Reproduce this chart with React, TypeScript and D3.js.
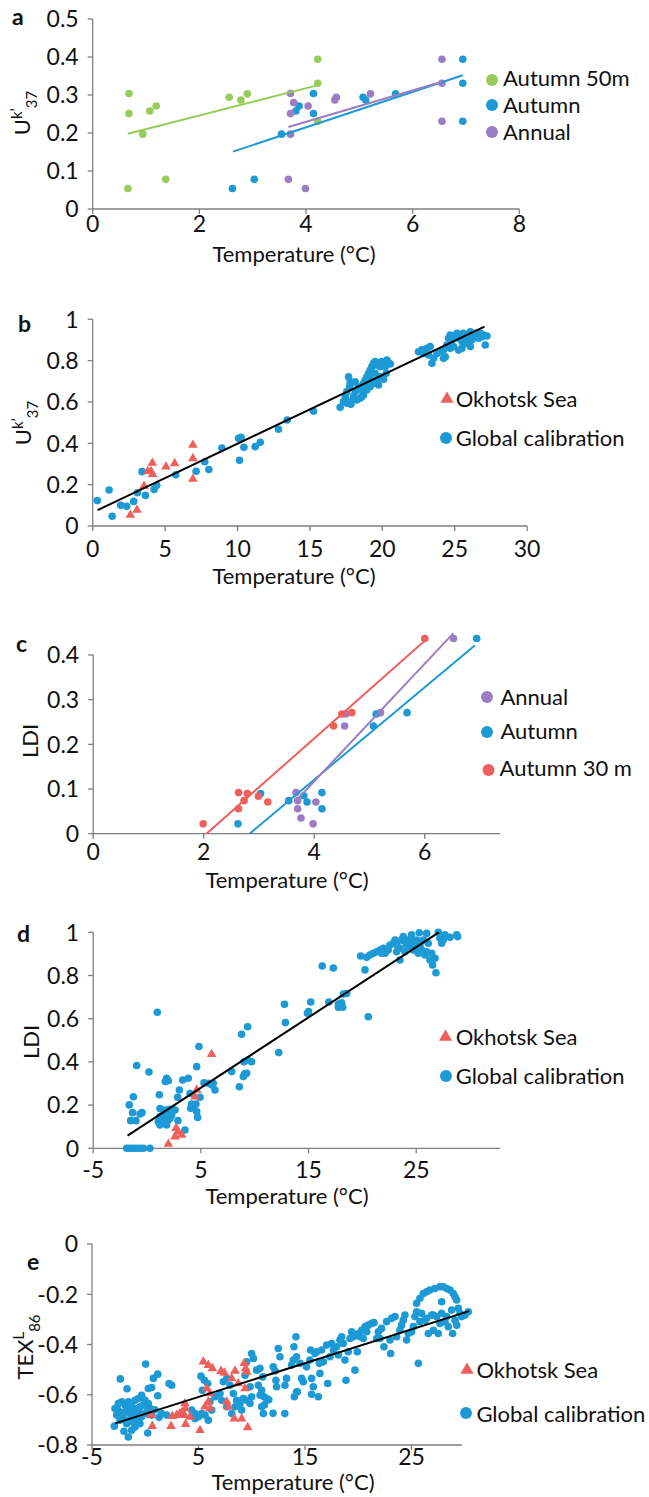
import React from 'react';
import * as d3 from 'd3';

type Pt = [number, number];

const FONT = 'Lato, "Open Sans", sans-serif';
const BLUE = '#1D9AD6';
const GREEN = '#97CB5A';
const PURPLE = '#9A7DC2';
const RED = '#EF5F5B';
const AXIS = '#7F7F7F';
const TEXT = '#111';

// ---------- Panel a ----------
const aXTicks = [0, 2, 4, 6, 8];
const aYTicks = [0, 0.1, 0.2, 0.3, 0.4, 0.5];
const aAutumn50: Pt[] = [[0.68,0.304],[0.68,0.251],[0.66,0.054],[0.94,0.197],[1.07,0.258],[1.19,0.271],[1.37,0.078],[2.56,0.294],[2.78,0.287],[2.9,0.303],[4.22,0.394],[4.22,0.331],[4.22,0.231]];
const aAutumn: Pt[] = [[2.62,0.054],[3.03,0.078],[3.54,0.197],[3.81,0.258],[3.87,0.271],[4.14,0.304],[4.14,0.251],[5.07,0.294],[5.12,0.287],[5.68,0.303],[6.94,0.394],[6.94,0.331],[6.94,0.231]];
const aAnnual: Pt[] = [[3.71,0.304],[3.77,0.28],[3.71,0.251],[3.71,0.197],[3.67,0.078],[3.99,0.054],[4.04,0.271],[4.54,0.287],[4.57,0.294],[5.21,0.303],[6.55,0.394],[6.55,0.331],[6.55,0.231]];
const aLineAutumn50: Pt[] = [[0.66,0.198],[4.17,0.324]];
const aLineAutumn: Pt[] = [[2.63,0.151],[6.94,0.352]];
const aLineAnnual: Pt[] = [[3.67,0.216],[6.55,0.335]];

// ---------- Panel b ----------
const bXTicks = [0, 5, 10, 15, 20, 25, 30];
const bYTicks = [0, 0.2, 0.4, 0.6, 0.8, 1];
const bOkhotsk: Pt[] = [[2.6,0.053],[3.06,0.077],[3.54,0.193],[3.8,0.265],[4.03,0.265],[4.12,0.305],[4.14,0.25],[5.06,0.287],[5.66,0.303],[6.92,0.392],[6.92,0.327],[6.92,0.227]];
const bGlobal: Pt[] = [
  [0.32,0.123],[1.13,0.174],[1.34,0.047],[1.94,0.1],[2.35,0.095],[2.83,0.119],[3.09,0.161],[3.41,0.263],[3.64,0.148],[4.24,0.177],[4.42,0.197],[5.74,0.248],[7.14,0.265],[7.74,0.311],[8.02,0.273],[8.92,0.377],[10.07,0.424],[10.25,0.429],[10.14,0.318],[10.44,0.381],[11.22,0.384],[11.57,0.405],[12.83,0.468],[13.43,0.513],[15.25,0.555],
  [17.09,0.574],[17.32,0.601],[17.44,0.622],[17.55,0.65],[17.74,0.674],[17.78,0.698],[17.67,0.722],[17.9,0.693],[18.13,0.698],[18.36,0.674],[18.59,0.658],[18.7,0.69],[18.82,0.706],[18.93,0.722],[19.05,0.739],[19.16,0.755],[19.28,0.771],[19.39,0.787],[19.51,0.795],[19.63,0.779],[19.74,0.79],[19.86,0.771],[19.97,0.795],[20.09,0.787],[20.2,0.771],[20.32,0.803],[20.43,0.79],[20.55,0.784],[20.27,0.739],[19.86,0.722],[19.63,0.706],[19.39,0.69],[19.16,0.674],[18.93,0.658],[18.7,0.634],[18.47,0.618],[18.24,0.61],[18.01,0.626],[17.78,0.602],[17.55,0.594],[17.83,0.589],[19.74,0.682],[20.09,0.71],[19.51,0.739],[19.16,0.714],[18.98,0.682],[18.59,0.626],[18.13,0.65],
  [22.5,0.843],[22.73,0.852],[22.85,0.835],[23.08,0.86],[23.31,0.868],[23.2,0.827],[23.43,0.787],[23.54,0.811],[23.77,0.835],[24.0,0.843],[24.23,0.852],[24.35,0.819],[24.46,0.876],[24.58,0.908],[24.69,0.924],[24.81,0.9],[24.92,0.868],[25.04,0.916],[25.15,0.932],[25.27,0.908],[25.38,0.924],[25.5,0.892],[25.61,0.932],[25.73,0.908],[25.84,0.884],[25.96,0.924],[26.08,0.94],[26.19,0.9],[26.31,0.916],[26.42,0.932],[26.54,0.924],[26.65,0.908],[26.77,0.932],[26.88,0.916],[27.0,0.924],[27.11,0.876],[27.23,0.919],[25.27,0.851],[24.23,0.811],[24.69,0.86],[25.5,0.86],[26.08,0.868]
];
const bLine: Pt[] = [[0.34,0.077],[27.06,0.965]];

// ---------- Panel c ----------
const cXTicks = [0, 2, 4, 6];
const cYTicks = [0, 0.1, 0.2, 0.3, 0.4];
const cAnnual: Pt[] = [[3.67,0.092],[3.7,0.074],[3.7,0.056],[3.76,0.035],[3.98,0.022],[4.03,0.071],[4.55,0.241],[4.57,0.268],[5.2,0.271],[6.52,0.437]];
const cAutumn: Pt[] = [[2.62,0.022],[3.03,0.09],[3.54,0.074],[3.81,0.085],[3.87,0.071],[4.14,0.092],[4.14,0.056],[5.07,0.241],[5.12,0.268],[5.68,0.271],[6.94,0.437]];
const cAutumn30: Pt[] = [[1.99,0.022],[2.63,0.092],[2.63,0.056],[2.73,0.074],[2.79,0.09],[2.99,0.084],[3.16,0.071],[4.35,0.241],[4.5,0.268],[4.68,0.271],[6.0,0.437]];
const cLineAnnual: Pt[] = [[3.71,0.079],[6.52,0.449]];
const cLineAutumn: Pt[] = [[2.83,0],[6.91,0.422]];
const cLineAutumn30: Pt[] = [[2.05,0],[6.0,0.432]];

// ---------- Panel d ----------
const dXTicks = [-5, 5, 15, 25];
const dYTicks = [0, 0.2, 0.4, 0.6, 0.8, 1];
const dOkhotsk: Pt[] = [[1.98,0.02],[2.6,0.054],[2.69,0.093],[2.9,0.077],[3.21,0.062],[4.45,0.239],[4.61,0.27],[6.0,0.435]];
const dGlobal: Pt[] = [
  [-1.89,0],[-1.58,0],[-1.27,0],[-0.96,0],[-0.65,0],[-0.35,0],[0.27,0],
  [0.95,0.63],[-0.96,0.383],[0.18,0.353],[-1.65,0.201],[-1.27,0.239],[-1.34,0.165],[-1.52,0.128],[-1.03,0.128],[-0.65,0.159],[-0.47,0.165],[1.14,0.248],[1.82,0.324],[1.98,0.313],[1.7,0.309],
  [1.2,0.184],[1.51,0.177],[1.82,0.177],[2.13,0.18],[2.44,0.177],[1.2,0.147],[1.51,0.154],[1.82,0.147],[2.13,0.139],[1.05,0.123],[1.36,0.116],[1.67,0.123],[1.98,0.131],[2.29,0.154],[2.6,0.177],[1.2,0.108],[1.82,0.108],[2.87,0.128],[3.52,0.085],[3.0,0.27],[2.84,0.236],[3.31,0.316],[3.83,0.324],
  [4.61,0.378],[4.82,0.471],[3.99,0.254],[4.05,0.185],[4.3,0.193],[4.54,0.205],[4.14,0.205],[4.61,0.17],[4.7,0.143],[4.92,0.236],[5.29,0.303],[5.69,0.301],[6.0,0.293],[6.15,0.301],[6.31,0.27],
  [7.86,0.355],[8.57,0.285],[8.94,0.332],[9.07,0.345],[8.78,0.528],[9.34,0.563],[9.0,0.401],[9.37,0.409],[9.71,0.401],[9.25,0.347],
  [12.23,0.443],[12.77,0.667],[12.85,0.582],[14.9,0.625],[15.0,0.633],[15.2,0.677],[16.27,0.844],[16.88,0.677],[17.3,0.835],[17.77,0.668],[17.77,0.653],[18.23,0.714],
  [18.07,0.674],[18.17,0.653],[18.54,0.717],[20.55,0.609],[20.24,0.826],[19.84,0.89],[20.4,0.884],[20.7,0.895],[21.0,0.903],[21.32,0.91],[21.63,0.918],[21.94,0.926],[21.79,0.903],[22.1,0.903],[22.4,0.918],[22.56,0.941],[22.87,0.949],[23.03,0.964],[23.18,0.941],[23.49,0.926],[23.49,0.872],[23.64,0.964],[23.8,0.98],[23.95,0.957],[24.11,0.941],[24.26,0.964],[24.42,0.934],[24.57,0.957],[24.73,0.918],[24.88,0.949],[25.04,0.926],[25.19,0.903],[25.28,0.998],[25.35,0.941],[25.5,0.918],[25.66,0.964],[25.81,0.895],[25.97,0.995],[25.97,0.91],[26.12,0.949],[26.28,0.872],[26.43,0.903],[26.52,0.849],[26.74,0.88],[26.83,0.813],[27.05,1.0],[27.2,0.972],[27.36,0.949],[27.51,0.964],[27.67,0.988],[28.13,0.977],[28.75,0.988],[28.84,0.98],[23.18,0.91],[23.95,0.91],[25.04,0.964],[24.57,0.988]
];
const dLine: Pt[] = [[-1.81,0.059],[27.1,1.0]];

// ---------- Panel e ----------
const eXTicks = [-5, 5, 15, 25];
const eYTicks = [0, -0.2, -0.4, -0.6, -0.8];
const eOkhotsk: Pt[] = [[5.45,-0.469],[5.92,-0.482],[6.3,-0.495],[7.11,-0.506],[7.43,-0.513],[8.43,-0.505],[9.3,-0.475],[9.43,-0.495],[9.52,-0.509],[8.11,-0.535],[8.74,-0.555],[5.77,-0.575],[6.08,-0.595],[5.92,-0.628],[5.61,-0.648],[6.08,-0.655],[7.65,-0.628],[7.8,-0.648],[9.37,-0.575],[9.05,-0.695],[8.36,-0.695],[9.62,-0.73],[5.14,-0.741],[0.54,-0.681],[0.66,-0.725],[2.42,-0.725],[2.54,-0.685],[2.95,-0.681],[3.26,-0.675],[3.73,-0.635],[3.79,-0.655],[3.67,-0.681],[3.79,-0.717],[4.2,-0.688],[3.48,-0.668]];
const eGlobal: Pt[] = [
  [0.04,-0.478],[-2.34,-0.537],[-1.71,-0.576],[1.17,-0.518],[0.76,-0.535],[0.6,-0.571],[0.29,-0.575],[2.23,-0.555],[2.48,-0.562],[1.17,-0.604],
  [-2.84,-0.655],[-2.53,-0.635],[-2.21,-0.628],[-1.9,-0.641],[-1.59,-0.628],[-1.28,-0.641],[-0.96,-0.622],[-0.65,-0.615],[-0.34,-0.602],[-0.02,-0.622],[0.29,-0.635],
  [-2.68,-0.681],[-2.37,-0.668],[-2.06,-0.675],[-1.74,-0.661],[-1.43,-0.675],[-1.12,-0.661],[-0.81,-0.655],[-0.49,-0.648],[-0.18,-0.641],[0.13,-0.648],[0.45,-0.655],
  [-2.9,-0.725],[-2.37,-0.701],[-1.74,-0.715],[-1.28,-0.695],[-0.81,-0.701],[-0.34,-0.688],[-0.02,-0.675],[0.6,-0.681],[-1.59,-0.768],[-1.28,-0.741],[-0.96,-0.728],[0.23,-0.752],[1.54,-0.675],[2.01,-0.681],
  [-2.2,-0.69],[-1.9,-0.7],[-1.5,-0.655],[-1.0,-0.68],[-0.6,-0.67],[-2.6,-0.66],[-2.0,-0.745],[-1.1,-0.71],[-0.5,-0.715],[0.9,-0.66],[1.3,-0.69],
  [4.36,-0.661],[4.67,-0.675],[4.98,-0.688],[5.3,-0.675],[5.61,-0.681],[5.23,-0.526],[5.55,-0.542],[5.86,-0.555],[5.36,-0.582],[6.08,-0.628],[6.55,-0.608],[7.02,-0.595],[7.33,-0.548],[7.65,-0.535],[7.96,-0.562],[8.27,-0.595],[8.58,-0.622],[8.9,-0.635],[9.21,-0.615],[9.52,-0.622],[9.84,-0.635],[8.43,-0.648],[9.05,-0.661],
  [9.52,-0.469],[9.99,-0.436],[10.15,-0.456],[10.46,-0.502],[10.62,-0.562],[10.78,-0.602],[10.93,-0.648],[11.09,-0.675],[9.37,-0.522],[9.84,-0.568],[9.99,-0.608],[7.18,-0.622],[7.65,-0.648],[8.12,-0.675],[6.24,-0.661],[5.92,-0.701],[4.67,-0.695],
  [10.77,-0.495],[11.02,-0.529],[10.93,-0.582],[11.15,-0.608],[11.4,-0.615],[11.2,-0.64],[12.0,-0.674],[13.1,-0.675],[11.6,-0.62],[14.0,-0.608],[14.2,-0.589],
  [12.02,-0.489],[12.18,-0.505],[12.49,-0.416],[12.65,-0.449],[12.27,-0.542],[12.33,-0.568],[13.12,-0.562],[13.27,-0.535],[13.74,-0.482],[13.9,-0.462],[13.96,-0.409],[14.15,-0.369],[14.21,-0.449],[14.53,-0.475],[14.68,-0.535],[14.84,-0.548],[15.15,-0.489],[15.46,-0.462],[15.53,-0.422],[15.62,-0.535],[15.78,-0.568],[15.93,-0.436],[16.09,-0.429],[16.34,-0.475],[16.56,-0.422],[16.4,-0.515],[16.25,-0.608],[15.62,-0.598],[14.28,-0.588],[16.72,-0.469],
  [17.03,-0.402],[17.13,-0.555],[17.34,-0.449],[17.5,-0.396],[17.66,-0.422],[17.97,-0.409],[18.13,-0.442],[18.28,-0.382],[18.44,-0.369],[18.59,-0.396],[18.75,-0.462],[18.85,-0.542],[19.06,-0.429],[19.22,-0.376],[19.38,-0.349],[19.53,-0.369],[19.69,-0.502],[19.78,-0.363],[19.91,-0.429],[20.0,-0.356],[20.16,-0.369],[20.32,-0.343],[20.47,-0.376],[20.63,-0.329],[20.79,-0.349],[20.94,-0.323],[21.26,-0.316],[21.47,-0.313],[21.73,-0.376],[22.04,-0.376],[22.41,-0.409],[22.66,-0.309],[22.98,-0.382],[23.04,-0.436],[23.13,-0.296],[23.45,-0.289],[23.6,-0.369],[23.91,-0.343],[24.07,-0.323],[24.38,-0.283],[24.54,-0.382],[24.7,-0.356],[25.01,-0.349],[25.32,-0.289],[25.48,-0.236],[25.64,-0.475],[25.79,-0.216],[25.95,-0.276],[26.11,-0.197],[26.26,-0.303],[26.42,-0.19],[26.58,-0.356],[26.73,-0.183],[26.89,-0.283],[27.05,-0.343],[27.2,-0.177],[27.36,-0.289],[27.51,-0.356],[27.67,-0.17],[27.83,-0.23],[27.83,-0.276],[27.98,-0.17],[28.14,-0.309],[28.3,-0.177],[28.45,-0.329],[28.61,-0.183],[28.77,-0.263],[28.86,-0.356],[28.92,-0.197],[29.08,-0.21],[29.24,-0.223],[29.39,-0.256],[29.55,-0.276],[29.71,-0.289],[30.02,-0.283],[30.33,-0.27],
  [25.48,-0.27],[25.79,-0.309],[26.42,-0.296],[27.05,-0.283],[27.67,-0.316],[28.3,-0.289],[29.08,-0.303],[29.24,-0.323],[25.17,-0.329],[24.23,-0.303],[22.19,-0.336],[21.88,-0.349]
];
const eLine: Pt[] = [[-2.82,-0.714],[30.4,-0.267]];

type Series = { data: Pt[]; color: string; shape: 'circle' | 'triangle' };
type Line = { data: Pt[]; color: string };
type LegendItem = { label: string; color: string; shape: 'circle' | 'triangle'; mx: number; my: number; tx: number; ty: number };
type PanelCfg = {
  letter: string; letterX: number; letterY: number;
  xDomain: Pt; xRange: Pt; yDomain: Pt; yRange: Pt;
  xTicks: number[]; yTicks: number[]; xTickY: number;
  xLabelX: number; xLabelY: number;
  yTitle: React.ReactNode; yTitleX: number; yTitleY: number;
  series: Series[]; lines: Line[]; legend: LegendItem[];
};

const triPath = d3.symbol().type(d3.symbolTriangle).size(40)() as string;
const triLegend = d3.symbol().type(d3.symbolTriangle).size(75)() as string;

function fmt(v: number) {
  return String(Math.round(v * 10) / 10);
}

function Panel({ c }: { c: PanelCfg }) {
  const x = d3.scaleLinear().domain(c.xDomain).range(c.xRange);
  const y = d3.scaleLinear().domain(c.yDomain).range(c.yRange);
  const x0 = c.xRange[0];
  const y0 = c.yRange[0];
  const line = d3.line<Pt>().x(d => x(d[0])).y(d => y(d[1]));
  return (
    <g fontFamily={FONT} fill={TEXT}>
      <text x={c.letterX} y={c.letterY} fontSize={23} fontWeight="bold">{c.letter}</text>
      <line x1={x0} x2={x0} y1={y0} y2={c.yRange[1]} stroke={AXIS} strokeWidth={1.3} />
      <line x1={x0} x2={c.xRange[1]} y1={y0} y2={y0} stroke={AXIS} strokeWidth={1.3} />
      {c.yTicks.map(t => (
        <g key={'y' + t}>
          <line x1={x0 - 5} x2={x0} y1={y(t)} y2={y(t)} stroke={AXIS} strokeWidth={1.3} />
          <text x={x0 - 14} y={y(t)} dy="0.36em" textAnchor="end" fontSize={23}>{fmt(t)}</text>
        </g>
      ))}
      {c.xTicks.map(t => (
        <g key={'x' + t}>
          <line x1={x(t)} x2={x(t)} y1={y0} y2={y0 + 5} stroke={AXIS} strokeWidth={1.3} />
          <text x={x(t)} y={c.xTickY} textAnchor="middle" fontSize={23}>{fmt(t)}</text>
        </g>
      ))}
      <text x={c.xLabelX} y={c.xLabelY} textAnchor="middle" fontSize={22}>Temperature (°C)</text>
      <text transform={`translate(${c.yTitleX},${c.yTitleY}) rotate(-90)`} textAnchor="middle" fontSize={22}>{c.yTitle}</text>
      {c.series.map((s, i) => (
        <g key={'s' + i} fill={s.color}>
          {s.data.map((d, j) =>
            s.shape === 'circle'
              ? <circle key={j} cx={x(d[0])} cy={y(d[1])} r={3.8} />
              : <path key={j} d={triPath} transform={`translate(${x(d[0])},${y(d[1])})`} />
          )}
        </g>
      ))}
      {c.lines.map((l, i) => (
        <path key={'l' + i} d={line(l.data) as string} stroke={l.color} strokeWidth={2} fill="none" />
      ))}
      {c.legend.map((it, i) => (
        <g key={'lg' + i}>
          {it.shape === 'circle'
            ? <circle cx={it.mx} cy={it.my} r={6} fill={it.color} />
            : <path d={triLegend} transform={`translate(${it.mx},${it.my})`} fill={it.color} />}
          <text x={it.tx} y={it.ty} fontSize={22}>{it.label}</text>
        </g>
      ))}
    </g>
  );
}

const U37 = (
  <>U<tspan dy={-8} fontSize={15}>k’</tspan><tspan dy={15} fontSize={15}>37</tspan></>
);
const TEX = (
  <>TEX<tspan dy={-9} fontSize={15}>L</tspan><tspan dy={16} fontSize={15}>86</tspan></>
);

const panels: PanelCfg[] = [
  {
    letter: 'a', letterX: 12, letterY: 25,
    xDomain: [0, 8], xRange: [92.7, 519.3], yDomain: [0, 0.5], yRange: [209, 19],
    xTicks: aXTicks, yTicks: aYTicks, xTickY: 232,
    xLabelX: 294, xLabelY: 262,
    yTitle: U37, yTitleX: 30, yTitleY: 113,
    series: [
      { data: aAutumn50, color: GREEN, shape: 'circle' },
      { data: aAutumn, color: BLUE, shape: 'circle' },
      { data: aAnnual, color: PURPLE, shape: 'circle' },
    ],
    lines: [
      { data: aLineAutumn50, color: GREEN },
      { data: aLineAutumn, color: BLUE },
      { data: aLineAnnual, color: PURPLE },
    ],
    legend: [
      { label: 'Autumn 50m', color: GREEN, shape: 'circle', mx: 492, my: 80, tx: 503, ty: 85.5 },
      { label: 'Autumn', color: BLUE, shape: 'circle', mx: 492, my: 105, tx: 503, ty: 112.5 },
      { label: 'Annual', color: PURPLE, shape: 'circle', mx: 492, my: 132, tx: 503, ty: 139.5 },
    ],
  },
  {
    letter: 'b', letterX: 18, letterY: 332,
    xDomain: [0, 30], xRange: [92.7, 527.1], yDomain: [0, 1], yRange: [526, 319.3],
    xTicks: bXTicks, yTicks: bYTicks, xTickY: 557,
    xLabelX: 294, xLabelY: 584,
    yTitle: U37, yTitleX: 31, yTitleY: 423,
    series: [
      { data: bGlobal, color: BLUE, shape: 'circle' },
      { data: bOkhotsk, color: RED, shape: 'triangle' },
    ],
    lines: [{ data: bLine, color: '#000' }],
    legend: [
      { label: 'Okhotsk Sea', color: RED, shape: 'triangle', mx: 447, my: 399, tx: 455.7, ty: 407 },
      { label: 'Global calibration', color: BLUE, shape: 'circle', mx: 446, my: 438, tx: 455.7, ty: 446 },
    ],
  },
  {
    letter: 'c', letterX: 16, letterY: 652,
    xDomain: [0, 7.36], xRange: [93.2, 499.9], yDomain: [0, 0.4], yRange: [833.7, 655],
    xTicks: cXTicks, yTicks: cYTicks, xTickY: 860,
    xLabelX: 287, xLabelY: 887.5,
    yTitle: 'LDI', yTitleX: 38, yTitleY: 741,
    series: [
      { data: cAnnual, color: PURPLE, shape: 'circle' },
      { data: cAutumn, color: BLUE, shape: 'circle' },
      { data: cAutumn30, color: RED, shape: 'circle' },
    ],
    lines: [
      { data: cLineAutumn, color: BLUE },
      { data: cLineAnnual, color: PURPLE },
      { data: cLineAutumn30, color: RED },
    ],
    legend: [
      { label: 'Annual', color: PURPLE, shape: 'circle', mx: 487, my: 697, tx: 500.4, ty: 705 },
      { label: 'Autumn', color: BLUE, shape: 'circle', mx: 487, my: 732, tx: 500.4, ty: 739 },
      { label: 'Autumn 30 m', color: RED, shape: 'circle', mx: 488.5, my: 770, tx: 499.6, ty: 776 },
    ],
  },
  {
    letter: 'd', letterX: 17, letterY: 942,
    xDomain: [-5, 32.78], xRange: [93.2, 500], yDomain: [0, 1], yRange: [1148.3, 932.3],
    xTicks: dXTicks, yTicks: dYTicks, xTickY: 1178,
    xLabelX: 287, xLabelY: 1204,
    yTitle: 'LDI', yTitleX: 39, yTitleY: 1042,
    series: [
      { data: dGlobal, color: BLUE, shape: 'circle' },
      { data: dOkhotsk, color: RED, shape: 'triangle' },
    ],
    lines: [{ data: dLine, color: '#000' }],
    legend: [
      { label: 'Okhotsk Sea', color: RED, shape: 'triangle', mx: 445.5, my: 1037, tx: 455.7, ty: 1045 },
      { label: 'Global calibration', color: BLUE, shape: 'circle', mx: 446, my: 1076, tx: 455.7, ty: 1084 },
    ],
  },
  {
    letter: 'e', letterX: 27, letterY: 1270,
    xDomain: [-5, 29.74], xRange: [92, 462], yDomain: [-0.8, 0], yRange: [1445, 1244],
    xTicks: eXTicks, yTicks: eYTicks, xTickY: 1465,
    xLabelX: 293, xLabelY: 1490,
    yTitle: TEX, yTitleX: 33, yTitleY: 1347,
    series: [
      { data: eGlobal, color: BLUE, shape: 'circle' },
      { data: eOkhotsk, color: RED, shape: 'triangle' },
    ],
    lines: [{ data: eLine, color: '#000' }],
    legend: [
      { label: 'Okhotsk Sea', color: RED, shape: 'triangle', mx: 467, my: 1370, tx: 476.4, ty: 1378 },
      { label: 'Global calibration', color: BLUE, shape: 'circle', mx: 466, my: 1413, tx: 476.4, ty: 1422 },
    ],
  },
];

export default function App() {
  return (
    <svg width={649} height={1497} style={{ position: 'absolute', left: 0, top: 0, background: '#fff' }}>
      <rect width={649} height={1497} fill="#fff" />
      {panels.map((p, i) => <Panel key={i} c={p} />)}
    </svg>
  );
}
